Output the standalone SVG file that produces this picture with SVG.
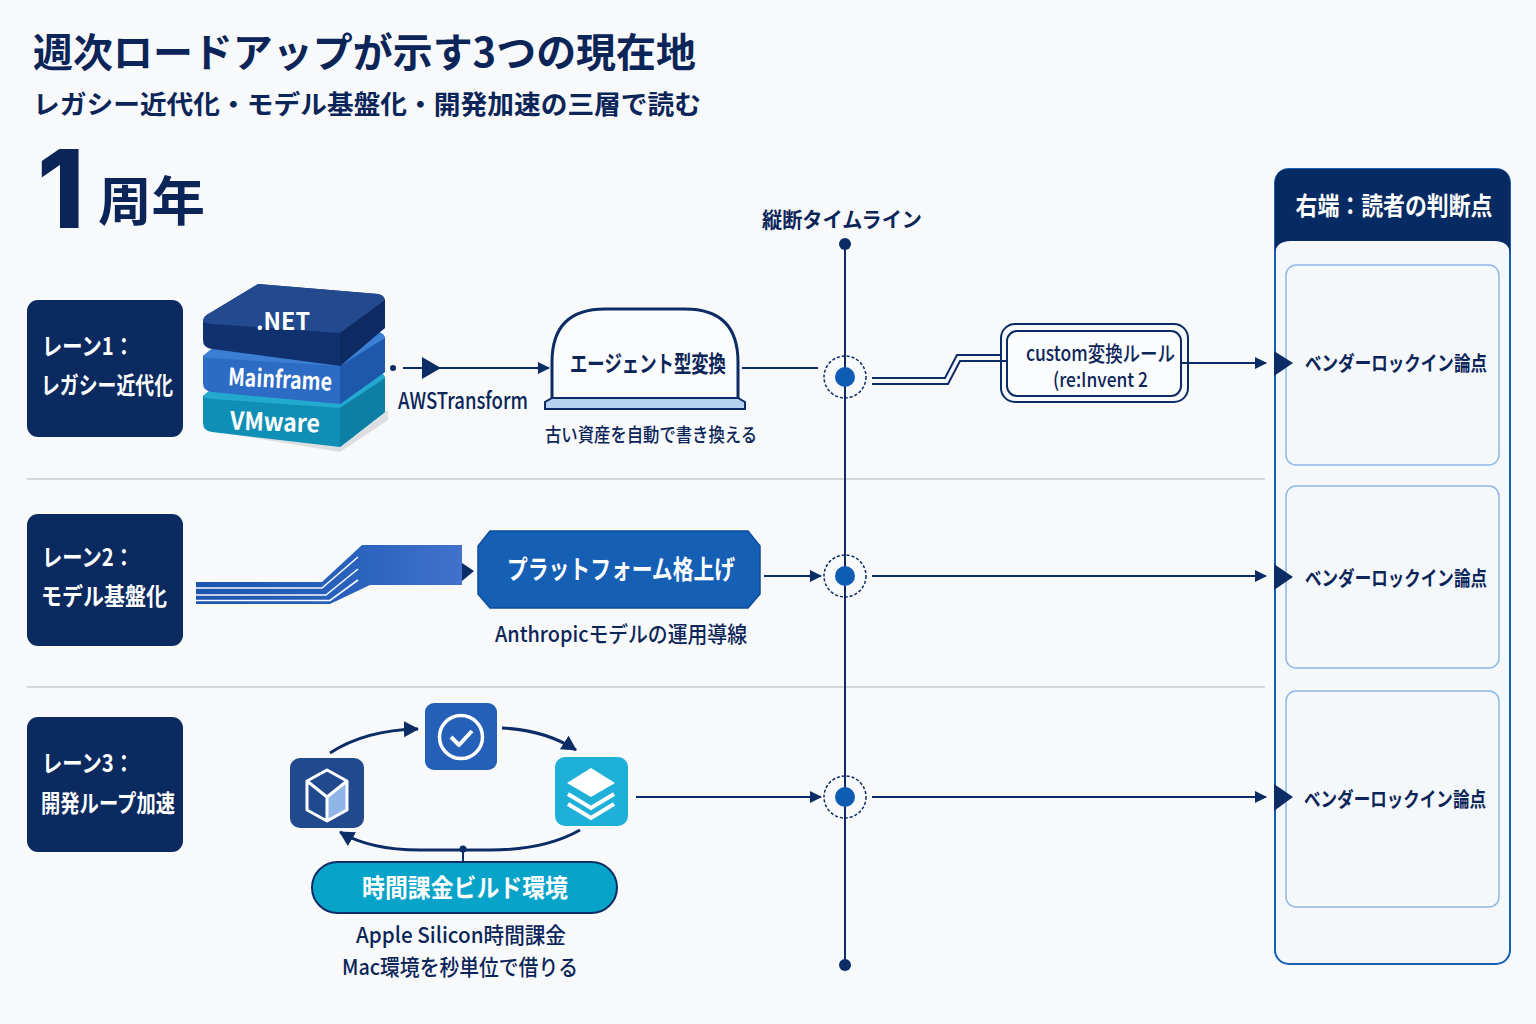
<svg xmlns="http://www.w3.org/2000/svg" width="1536" height="1024" viewBox="0 0 1536 1024">
<style>
text{font-family:"Noto Sans CJK JP","Noto Sans",sans-serif;fill:#0b2559;font-weight:500}
.b{font-weight:700}
.w{fill:#fff}
.c{text-anchor:middle}
.lane{fill:#0a2a60}
.ln{fill:none;stroke:#0c2c66;stroke-width:2}
.sep{stroke:#c9ccd1;stroke-width:1.5}
.card{fill:#f5f8fb;stroke:#8db8e8;stroke-width:1.5}
.tri{fill:#0c2c66}
.wl{fill:none;stroke:#fff;stroke-width:4;stroke-linejoin:round}
.halo{fill:#f8f9fa;stroke:#0c2c66;stroke-width:1.5;stroke-dasharray:3 2}
.big{font-family:Inter,"Noto Sans",sans-serif;font-weight:800}
</style>
<defs>
<marker id="a" markerWidth="14" markerHeight="14" refX="11" refY="6" orient="auto" markerUnits="userSpaceOnUse"><path d="M0 0L12 6L0 12Z" fill="#0c2c66"/></marker>
<marker id="al" markerWidth="20" markerHeight="20" refX="14" refY="8" orient="auto" markerUnits="userSpaceOnUse"><path d="M0 0L15 8L0 16Z" fill="#0c2c66"/></marker>
<linearGradient id="rib" x1="0" x2="1" y1="0" y2="0"><stop offset="0" stop-color="#1a55b0"/><stop offset=".6" stop-color="#2a62bd"/><stop offset="1" stop-color="#4272cb"/></linearGradient>
</defs>
<rect width="1536" height="1024" fill="#f8f9fa"/>
<g id="title">
<text x="33" y="67" font-size="40" class="b" textLength="663" lengthAdjust="spacingAndGlyphs">週次ロードアップが示す3つの現在地</text>
<text x="33" y="114" font-size="26" class="b" textLength="668" lengthAdjust="spacingAndGlyphs">レガシー近代化・モデル基盤化・開発加速の三層で読む</text>
<text x="37" y="228" font-size="108" class="big">1</text>
<text x="98" y="221" font-size="53" class="b" textLength="107" lengthAdjust="spacingAndGlyphs">周年</text>
</g>
<g id="separators">
<line x1="27" y1="479" x2="1265" y2="479" class="sep"/>
<line x1="27" y1="687" x2="1265" y2="687" class="sep"/>
</g>
<g id="lane1"><rect x="27" y="300" width="156" height="137" rx="11" class="lane"/>
<text x="42" y="355" font-size="24" class="b w" textLength="92" lengthAdjust="spacingAndGlyphs">レーン1：</text>
<text x="41" y="394" font-size="24" class="b w" textLength="132" lengthAdjust="spacingAndGlyphs">レガシー近代化</text></g>
<g id="lane2"><rect x="27" y="514" width="156" height="132" rx="11" class="lane"/>
<text x="42" y="566" font-size="24" class="b w" textLength="92" lengthAdjust="spacingAndGlyphs">レーン2：</text>
<text x="41" y="605" font-size="24" class="b w" textLength="126" lengthAdjust="spacingAndGlyphs">モデル基盤化</text></g>
<g id="lane3"><rect x="27" y="717" width="156" height="135" rx="11" class="lane"/>
<text x="42" y="772" font-size="24" class="b w" textLength="92" lengthAdjust="spacingAndGlyphs">レーン3：</text>
<text x="41" y="812" font-size="24" class="b w" textLength="134" lengthAdjust="spacingAndGlyphs">開発ループ加速</text></g>
<g id="stack">
<path d="M206 430L340 452L388 420V410L340 440L206 425Z" fill="#c9ccd1" opacity=".6"/>
<path d="M203 396L245 362L378 372Q385 373 385 380V412L340 447L212 432Q203 431 203 423Z" fill="#0f8fb5"/>
<path d="M203 396L245 362L378 372Q385 373 385 380L340 408L212 399Q203 398 203 396Z" fill="#23a9cf"/>
<path d="M340 408L385 378V412L340 447Z" fill="#0d7fa5"/>
<text x="275" y="431" font-size="25" class="b w c" transform="rotate(2 275 423)" textLength="90" lengthAdjust="spacingAndGlyphs">VMware</text>
<path d="M203 356L245 322L378 332Q385 333 385 340V372L340 404L212 392Q203 391 203 383Z" fill="#2c6cc4"/>
<path d="M203 356L245 322L378 332Q385 333 385 340L340 366L212 358Q203 358 203 356Z" fill="#3b7fd4"/>
<path d="M340 366L385 338V372L340 404Z" fill="#1f58ab"/>
<text x="280" y="388" font-size="24" class="b w c" transform="rotate(3 280 380)" textLength="104" lengthAdjust="spacingAndGlyphs">Mainframe</text>
<path d="M203 322Q203 316 210 313L258 284L378 294Q385 295 385 302V327L340 366L212 349Q203 348 203 340Z" fill="#11306e"/>
<path d="M203 322Q203 316 210 313L258 284L378 294Q385 295 385 302L340 333L212 324Q203 323 203 322Z" fill="#234a8f"/>
<path d="M340 333L385 300V328L340 366Z" fill="#0e2a63"/>
<text x="283" y="330" font-size="24" class="b w c" textLength="54" lengthAdjust="spacingAndGlyphs">.NET</text>
</g>
<g id="agent">
<path d="M552 402V362Q552 309 605 309H685Q738 309 738 362V402" fill="#fbfcfd" stroke="#0c2c66" stroke-width="3"/>
<path d="M545 409V402L552 398H738L745 402V409Z" fill="#b7d2ee" stroke="#0c2c66" stroke-width="2"/>
<text x="648" y="372" font-size="23" class="b c" textLength="156" lengthAdjust="spacingAndGlyphs">エージェント型変換</text>
<text x="651" y="442" font-size="19" class="c" textLength="212" lengthAdjust="spacingAndGlyphs">古い資産を自動で書き換える</text>
</g>
<g id="platform">
<path d="M490 531H748L760 546V594L748 608H490L478 594V546Z" fill="#1560b5" stroke="#0d4d9d" stroke-width="1.5"/>
<text x="621" y="579" font-size="26" class="b w c" textLength="228" lengthAdjust="spacingAndGlyphs">プラットフォーム格上げ</text>
<text x="621" y="642" font-size="22" class="c" textLength="252" lengthAdjust="spacingAndGlyphs">Anthropicモデルの運用導線</text>
</g>
<g id="custom">
<rect x="1001" y="324" width="187" height="78" rx="14" fill="#f8f9fa" stroke="#0c2c66" stroke-width="2"/>
<rect x="1007" y="331" width="174" height="65" rx="10" fill="#fbfcfd" stroke="#0c2c66" stroke-width="2"/>
<text x="1026" y="361" font-size="21" textLength="149" lengthAdjust="spacingAndGlyphs">custom変換ルール</text>
<text x="1053" y="387" font-size="20" textLength="95" lengthAdjust="spacingAndGlyphs">(re:Invent 2</text>
</g>
<g id="cycle">
<rect x="425" y="703" width="72" height="67" rx="9" fill="#2560b8"/>
<circle cx="461" cy="737" r="21.5" fill="none" stroke="#fff" stroke-width="3.5"/>
<path d="M451 737L459 745L472 731" class="wl"/>
<rect x="290" y="758" width="74" height="70" rx="10" fill="#214a8e"/>
<path d="M347 781V810L328 821V797Z" fill="#8fb6e6"/>
<path d="M327 770L347 781V810L327 821L307 810V781ZM307 781L327 797L347 781M327 797V821" fill="none" stroke="#fff" stroke-width="3" stroke-linejoin="round"/>
<rect x="555" y="757" width="73" height="69" rx="10" fill="#1fb0da"/>
<path d="M591 768L615 783L591 797L567 783Z" fill="#fff"/>
<path d="M568 794L591 808L614 794M568 804L591 818L614 804" fill="none" stroke="#fff" stroke-width="4"/>
<rect x="312" y="862" width="305" height="51" rx="25.5" fill="#08a3c9" stroke="#0c2c66" stroke-width="2"/>
<text x="465" y="897" font-size="25" class="b w c" textLength="206" lengthAdjust="spacingAndGlyphs">時間課金ビルド環境</text>
<text x="461" y="943" font-size="22" class="c" textLength="210" lengthAdjust="spacingAndGlyphs">Apple Silicon時間課金</text>
<text x="460" y="975" font-size="22" class="c" textLength="236" lengthAdjust="spacingAndGlyphs">Mac環境を秒単位で借りる</text>
</g>
<g id="timeline">
<text x="842" y="227" font-size="21" class="b c" textLength="160" lengthAdjust="spacingAndGlyphs">縦断タイムライン</text>
<line x1="845" y1="244" x2="845" y2="965" class="ln"/>
<circle cx="845" cy="244" r="6" fill="#0c2c66"/><circle cx="845" cy="965" r="6" fill="#0c2c66"/>
<g id="node1"><circle cx="845" cy="377" r="21" class="halo"/><line x1="845" y1="356" x2="845" y2="398" class="ln"/><circle cx="845" cy="377" r="10" fill="#0f5cb5"/></g>
<g id="node2"><circle cx="845" cy="576" r="21" class="halo"/><line x1="845" y1="555" x2="845" y2="597" class="ln"/><circle cx="845" cy="576" r="10" fill="#0f5cb5"/></g>
<g id="node3"><circle cx="845" cy="797" r="21" class="halo"/><line x1="845" y1="776" x2="845" y2="818" class="ln"/><circle cx="845" cy="797" r="10" fill="#0f5cb5"/></g>
</g>
<g id="panel">
<rect x="1275" y="169" width="235" height="795" rx="14" fill="#f5f8fb" stroke="#1560b5" stroke-width="2"/>
<path d="M1275 255V183Q1275 169 1289 169H1496Q1510 169 1510 183V255Q1510 241 1494 241H1291Q1275 241 1275 255Z" fill="#062a62"/>
<text x="1394" y="215" font-size="25" class="b w c" textLength="197" lengthAdjust="spacingAndGlyphs">右端：読者の判断点</text>
<g id="judge1"><rect x="1286" y="265" width="213" height="200" rx="10" class="card"/>
<text x="1396" y="371" font-size="20.5" class="b c" textLength="182" lengthAdjust="spacingAndGlyphs">ベンダーロックイン論点</text></g>
<g id="judge2"><rect x="1286" y="486" width="213" height="182" rx="10" class="card"/>
<text x="1396" y="586" font-size="20.5" class="b c" textLength="182" lengthAdjust="spacingAndGlyphs">ベンダーロックイン論点</text></g>
<g id="judge3"><rect x="1286" y="691" width="213" height="216" rx="10" class="card"/>
<text x="1395" y="807" font-size="20.5" class="b c" textLength="182" lengthAdjust="spacingAndGlyphs">ベンダーロックイン論点</text></g>
</g>
<g id="connectors">
<circle cx="393" cy="368" r="3" fill="#0c2c66"/>
<line x1="403" y1="368" x2="549" y2="368" class="ln" marker-end="url(#a)"/>
<path d="M422 357L441 368L422 379Z" class="tri"/>
<text x="398" y="409" font-size="23" textLength="130" lengthAdjust="spacingAndGlyphs">AWSTransform</text>
<line x1="742" y1="368" x2="818" y2="368" class="ln"/>
<path d="M872 378H945L957 355H1001M872 384H948L960 361H1007" class="ln"/>
<line x1="1181" y1="363" x2="1266" y2="363" class="ln" marker-end="url(#a)"/>
<path d="M1274 351L1293 363L1274 376Z" class="tri"/>
<path d="M196 582H322L362 545H462V585H370L330 604H196Z" fill="url(#rib)"/>
<path d="M196 588H322L358 557M196 595H326L358 569M196 600.5H330L358 580" fill="none" stroke="#f8f9fa" stroke-width="1.6"/>
<path d="M462 563L474 571L462 581Z" fill="#0c2c66"/>
<line x1="764" y1="576" x2="821" y2="576" class="ln" marker-end="url(#a)"/>
<line x1="872" y1="576" x2="1266" y2="576" class="ln" marker-end="url(#a)"/>
<path d="M1274 564L1293 577L1274 590Z" class="tri"/>
<path d="M330 753Q365 730 418 729" fill="none" stroke="#0c2c66" stroke-width="3" marker-end="url(#al)"/>
<path d="M502 728Q545 730 576 750" fill="none" stroke="#0c2c66" stroke-width="3" marker-end="url(#al)"/>
<path d="M580 830Q545 850 490 850H420Q370 850 340 832" fill="none" stroke="#0c2c66" stroke-width="3" marker-end="url(#al)"/>
<circle cx="463" cy="849" r="3.5" fill="#0c2c66"/><line x1="463" y1="849" x2="463" y2="862" class="ln"/>
<line x1="636" y1="797" x2="821" y2="797" class="ln" marker-end="url(#a)"/>
<line x1="872" y1="797" x2="1266" y2="797" class="ln" marker-end="url(#a)"/>
<path d="M1274 784L1293 797L1274 811Z" class="tri"/>
</g>
</svg>
